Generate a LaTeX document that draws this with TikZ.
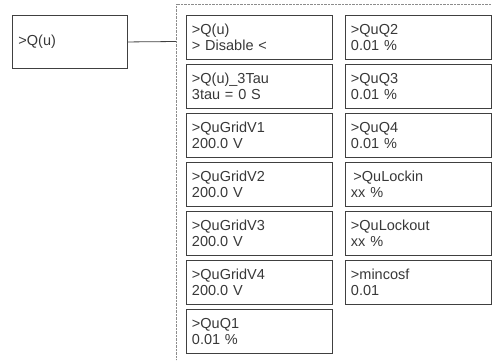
\documentclass[tikz,border=0pt]{standalone}
\usepackage{fontspec}
\setmainfont{Liberation Sans}
\begin{document}
\begin{tikzpicture}[x=1pt,y=-1pt,
    every node/.style={font=\fontsize{14.5}{16.5}\selectfont, text=black!78},
    menubox/.style={draw=black!75, line width=0.9pt, anchor=north west,
      minimum height=44pt, text width=135pt, inner xsep=5.5pt, align=left}]
    \useasboundingbox (0,0) rectangle (492,360);

    % top level entry
    \node[draw=black!75, line width=0.9pt, anchor=north west, minimum width=115pt,
      minimum height=53pt, text width=103pt, inner xsep=6pt, align=left]
      (qu) at (12,15) {>Q(u)};

    % dotted frame of the sub menu
    \draw[densely dotted, black!45] (492,4) -- (176,4) -- (176,360);
    \coordinate (frame) at (176,41.5);
    \draw[black!75, line width=0.8pt] (qu.east) -- (frame);

    % left column
    \node[menubox] (mode) at (186,15) {>Q(u)\\> Disable <};
    \node[menubox] (tau) at (186,64) {>Q(u)\_3Tau\\3tau = 0 S};
    \node[menubox] (gridA) at (186,113) {>QuGridV1\\200.0 V};
    \node[menubox] (gridB) at (186,162) {>QuGridV2\\200.0 V};
    \node[menubox] (gridC) at (186,211) {>QuGridV3\\200.0 V};
    \node[menubox] (gridD) at (186,260) {>QuGridV4\\200.0 V};
    \node[menubox] (qA) at (186,309) {>QuQ1\\0.01 \%};

    % right column
    \node[menubox] (qB) at (345,15) {>QuQ2\\0.01 \%};
    \node[menubox] (qC) at (345,64) {>QuQ3\\0.01 \%};
    \node[menubox] (qD) at (345,113) {>QuQ4\\0.01 \%};
    \node[menubox] (lockin) at (345,162) {\hspace{2.5pt}>QuLockin\\xx \%};
    \node[menubox] (lockout) at (345,211) {>QuLockout\\xx \%};
    \node[menubox] (cosf) at (345,260) {>mincosf\\0.01};
  \end{tikzpicture}
\end{document}
